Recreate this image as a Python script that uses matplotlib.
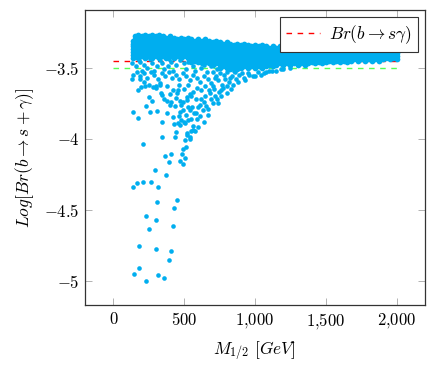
import numpy as np
import matplotlib.pyplot as plt

plt.rcParams['font.family'] = 'serif'
plt.rcParams['font.serif'] = ['cmr10', 'DejaVu Serif']
plt.rcParams['mathtext.fontset'] = 'cm'

# reference lines
br_exp = -3.45
br_low = -3.50
line_x = [0, 2000]

# dense band: (M_1/2, Log Br values) per column
band_cols = [
    (140, [-3.31, -3.33, -3.35, -3.37, -3.39, -3.41, -3.43]),
    (150, [-3.28, -3.30, -3.32, -3.34, -3.36, -3.38, -3.40, -3.42]),
    (175, [-3.27, -3.29, -3.31, -3.33, -3.35, -3.37, -3.39, -3.41, -3.43]),
    (200, [-3.28, -3.30, -3.32, -3.34, -3.36, -3.38, -3.40, -3.42]),
    (225, [-3.27, -3.29, -3.31, -3.33, -3.35, -3.37, -3.39, -3.41, -3.43]),
    (250, [-3.28, -3.30, -3.32, -3.34, -3.36, -3.38, -3.40, -3.42]),
    (275, [-3.27, -3.29, -3.31, -3.33, -3.35, -3.37, -3.39, -3.41, -3.43]),
    (300, [-3.28, -3.30, -3.32, -3.34, -3.36, -3.38, -3.40, -3.42]),
    (325, [-3.27, -3.29, -3.31, -3.33, -3.35, -3.37, -3.39, -3.41, -3.43]),
    (350, [-3.28, -3.30, -3.32, -3.34, -3.36, -3.38, -3.40, -3.42]),
    (375, [-3.29, -3.31, -3.33, -3.35, -3.37, -3.39, -3.41, -3.43]),
    (400, [-3.28, -3.30, -3.32, -3.34, -3.36, -3.38, -3.40, -3.42]),
    (425, [-3.29, -3.31, -3.33, -3.35, -3.37, -3.39, -3.41, -3.43]),
    (450, [-3.30, -3.32, -3.34, -3.36, -3.38, -3.40, -3.42]),
    (475, [-3.29, -3.31, -3.33, -3.35, -3.37, -3.39, -3.41, -3.43]),
    (500, [-3.30, -3.32, -3.34, -3.36, -3.38, -3.40, -3.42]),
    (525, [-3.29, -3.31, -3.33, -3.35, -3.37, -3.39, -3.41, -3.43]),
    (550, [-3.30, -3.32, -3.34, -3.36, -3.38, -3.40, -3.42, -3.44, -3.46]),
    (575, [-3.31, -3.33, -3.35, -3.37, -3.39, -3.41, -3.43, -3.45]),
    (600, [-3.30, -3.32, -3.34, -3.36, -3.38, -3.40, -3.42, -3.44, -3.46]),
    (625, [-3.31, -3.33, -3.35, -3.37, -3.39, -3.41, -3.43, -3.45, -3.47]),
    (650, [-3.30, -3.32, -3.34, -3.36, -3.38, -3.40, -3.42, -3.44, -3.46]),
    (675, [-3.31, -3.33, -3.35, -3.37, -3.39, -3.41, -3.43, -3.45, -3.47]),
    (700, [-3.32, -3.34, -3.36, -3.38, -3.40, -3.42, -3.44, -3.46, -3.48]),
    (725, [-3.31, -3.33, -3.35, -3.37, -3.39, -3.41, -3.43, -3.45, -3.47]),
    (750, [-3.32, -3.34, -3.36, -3.38, -3.40, -3.42, -3.44, -3.46, -3.48, -3.50]),
    (775, [-3.33, -3.35, -3.37, -3.39, -3.41, -3.43, -3.45, -3.47, -3.49]),
    (800, [-3.32, -3.34, -3.36, -3.38, -3.40, -3.42, -3.44, -3.46, -3.48, -3.50]),
    (825, [-3.33, -3.35, -3.37, -3.39, -3.41, -3.43, -3.45, -3.47, -3.49, -3.51]),
    (850, [-3.34, -3.36, -3.38, -3.40, -3.42, -3.44, -3.46, -3.48, -3.50]),
    (875, [-3.33, -3.35, -3.37, -3.39, -3.41, -3.43, -3.45, -3.47, -3.49, -3.51]),
    (900, [-3.34, -3.36, -3.38, -3.40, -3.42, -3.44, -3.46, -3.48, -3.50]),
    (925, [-3.33, -3.35, -3.37, -3.39, -3.41, -3.43, -3.45, -3.47, -3.49]),
    (950, [-3.34, -3.36, -3.38, -3.40, -3.42, -3.44, -3.46, -3.48, -3.50]),
    (975, [-3.35, -3.37, -3.39, -3.41, -3.43, -3.45, -3.47, -3.49]),
    (1000, [-3.34, -3.36, -3.38, -3.40, -3.42, -3.44, -3.46, -3.48, -3.50]),
    (1025, [-3.35, -3.37, -3.39, -3.41, -3.43, -3.45, -3.47, -3.49]),
    (1050, [-3.34, -3.36, -3.38, -3.40, -3.42, -3.44, -3.46, -3.48, -3.50]),
    (1075, [-3.35, -3.37, -3.39, -3.41, -3.43, -3.45, -3.47, -3.49]),
    (1100, [-3.36, -3.38, -3.40, -3.42, -3.44, -3.46, -3.48]),
    (1125, [-3.35, -3.37, -3.39, -3.41, -3.43, -3.45, -3.47, -3.49]),
    (1150, [-3.36, -3.38, -3.40, -3.42, -3.44, -3.46, -3.48]),
    (1175, [-3.35, -3.37, -3.39, -3.41, -3.43, -3.45, -3.47]),
    (1200, [-3.36, -3.38, -3.40, -3.42, -3.44, -3.46, -3.48]),
    (1225, [-3.37, -3.39, -3.41, -3.43, -3.45, -3.47]),
    (1250, [-3.36, -3.38, -3.40, -3.42, -3.44, -3.46, -3.48]),
    (1275, [-3.37, -3.39, -3.41, -3.43, -3.45, -3.47]),
    (1300, [-3.36, -3.38, -3.40, -3.42, -3.44, -3.46, -3.48]),
    (1325, [-3.37, -3.39, -3.41, -3.43, -3.45, -3.47]),
    (1350, [-3.38, -3.40, -3.42, -3.44, -3.46, -3.48]),
    (1375, [-3.37, -3.39, -3.41, -3.43, -3.45, -3.47]),
    (1400, [-3.38, -3.40, -3.42, -3.44, -3.46]),
    (1425, [-3.37, -3.39, -3.41, -3.43, -3.45, -3.47]),
    (1450, [-3.38, -3.40, -3.42, -3.44, -3.46]),
    (1475, [-3.37, -3.39, -3.41, -3.43, -3.45, -3.47]),
    (1500, [-3.38, -3.40, -3.42, -3.44, -3.46]),
    (1525, [-3.39, -3.41, -3.43, -3.45]),
    (1550, [-3.38, -3.40, -3.42, -3.44, -3.46]),
    (1575, [-3.39, -3.41, -3.43, -3.45]),
    (1600, [-3.38, -3.40, -3.42, -3.44, -3.46]),
    (1625, [-3.39, -3.41, -3.43, -3.45]),
    (1650, [-3.38, -3.40, -3.42, -3.44, -3.46]),
    (1675, [-3.39, -3.41, -3.43, -3.45]),
    (1700, [-3.38, -3.40, -3.42, -3.44]),
    (1725, [-3.39, -3.41, -3.43, -3.45]),
    (1750, [-3.38, -3.40, -3.42, -3.44]),
    (1775, [-3.39, -3.41, -3.43, -3.45]),
    (1800, [-3.38, -3.40, -3.42, -3.44]),
    (1825, [-3.39, -3.41, -3.43, -3.45]),
    (1850, [-3.40, -3.42, -3.44]),
    (1875, [-3.39, -3.41, -3.43, -3.45]),
    (1900, [-3.40, -3.42, -3.44]),
    (1925, [-3.39, -3.41, -3.43]),
    (1950, [-3.40, -3.42, -3.44]),
    (1975, [-3.39, -3.41, -3.43]),
    (2000, [-3.40, -3.42, -3.44]),
]

# ragged edge just under the band
fringe_x = [130, 160, 185, 205, 215, 240, 270, 285, 310, 345, 360, 385, 410, 420,
            440, 500, 515, 530, 560, 575, 600, 620, 640, 660, 690, 720, 735,
            180, 260, 330, 395, 470, 545]
fringe_y = [-3.47, -3.49, -3.46, -3.52, -3.48, -3.50, -3.47, -3.52, -3.49, -3.47,
            -3.51, -3.49, -3.46, -3.52, -3.48, -3.47, -3.51, -3.46, -3.49, -3.52,
            -3.46, -3.50, -3.48, -3.53, -3.49, -3.46, -3.51,
            -3.445, -3.44, -3.445, -3.44, -3.445, -3.44]

# scattered points between -3.5 and -4
mid_x = [140, 165, 190, 215, 240, 265, 290, 315, 340, 365, 390, 415, 440, 465, 490,
         515, 540, 565, 590, 615, 640, 665, 690, 715, 740, 765, 790, 815, 840, 865,
         890, 920, 950, 985, 1020, 1060, 1100, 1150, 1200,
         250, 300, 330, 380, 420, 460, 500, 530, 560, 590, 620, 650, 680, 710, 745,
         775, 800, 830,
         360, 410, 440, 480, 520, 555, 585, 610, 640, 670, 700, 730,
         380, 420, 470, 510, 545, 580, 610, 640, 600, 560,
         134, 188, 216, 223, 176, 195, 282, 301, 329, 253, 270, 228, 141, 176, 258,
         306, 341, 334, 341, 380, 399, 434, 470, 493, 528, 517, 446, 458, 540, 399,
         427, 458, 481, 505, 528, 517, 563, 540,
         860, 880, 905, 930, 960, 1000, 1040, 1080, 1120, 1180, 1250,
         700, 725, 750, 760, 780, 800, 805, 820, 845, 850, 700, 720, 690, 740, 760,
         675, 650, 655, 630, 665, 620, 600, 590, 570, 550, 540, 495, 460, 500, 470]
mid_y = [-3.55, -3.53, -3.56, -3.54, -3.57, -3.53, -3.55, -3.58, -3.54, -3.56,
         -3.53, -3.57, -3.55, -3.58, -3.54, -3.56, -3.59, -3.55, -3.57, -3.60,
         -3.56, -3.58, -3.61, -3.57, -3.59, -3.62, -3.58, -3.60, -3.56, -3.58,
         -3.55, -3.57, -3.54, -3.56, -3.53, -3.54, -3.52, -3.52, -3.51,
         -3.62, -3.64, -3.61, -3.63, -3.66, -3.62, -3.65, -3.62, -3.67, -3.64,
         -3.66, -3.63, -3.68, -3.65, -3.67, -3.64, -3.68, -3.65,
         -3.72, -3.74, -3.71, -3.76, -3.73, -3.78, -3.72, -3.76, -3.74, -3.79,
         -3.75, -3.72,
         -3.82, -3.85, -3.81, -3.83, -3.86, -3.82, -3.84, -3.88, -3.92, -3.91,
         -3.579, -3.582, -3.598, -3.627, -3.657, -3.638, -3.638, -3.627, -3.622,
         -3.704, -3.734, -3.769, -3.814, -3.852, -3.811, -3.802, -3.692, -3.680,
         -3.880, -3.734, -3.762, -3.769, -3.734, -3.739, -3.774, -3.704, -3.680,
         -3.657, -3.685, -3.685, -3.896, -3.891, -3.868, -3.887, -3.868, -3.961,
         -3.938, -3.985,
         -3.53, -3.60, -3.54, -3.59, -3.55, -3.56, -3.55, -3.53, -3.52, -3.51, -3.505,
         -3.53, -3.56, -3.54, -3.66, -3.55, -3.63, -3.53, -3.57, -3.62, -3.52, -3.63,
         -3.70, -3.72, -3.75, -3.70, -3.66, -3.70, -3.77, -3.80, -3.83, -3.72, -3.78,
         -3.86, -3.82, -3.70, -3.80, -3.80, -3.84, -3.88, -3.90]

# sparse tail down to -5
low_x = [441, 341, 432, 519, 545, 573, 207, 507, 540, 510, 489, 484, 505, 366,
         406, 394, 470, 489, 294, 373, 137, 167, 207, 263, 317, 310, 451, 425,
         228, 301, 254, 423, 179, 301, 404, 392, 181, 144, 315, 357, 230]
low_y = [-3.952, -3.985, -3.987, -3.971, -3.947, -3.947, -4.034, -4.008, -4.004,
         -4.056, -4.074, -4.105, -4.137, -4.123, -4.109, -4.163, -4.154, -4.179,
         -4.222, -4.252, -4.337, -4.313, -4.304, -4.304, -4.339, -4.442, -4.428,
         -4.485, -4.545, -4.571, -4.636, -4.611, -4.754, -4.777, -4.791, -4.850,
         -4.911, -4.951, -4.956, -4.977, -5.0]

band_x = [x for x, col in band_cols for _ in col]
band_y = [y for _, col in band_cols for y in col]
rest_x = fringe_x + mid_x + low_x
rest_y = fringe_y + mid_y + low_y

fig = plt.figure(figsize=(4.36, 3.76), dpi=100)
ax = fig.add_axes([85 / 436, 71 / 376, 340 / 436, 295 / 376])

ax.plot(line_x, [br_exp, br_exp], color='red', lw=1.0, dashes=(4, 4), zorder=1,
        label=r'$Br(b\to s\gamma)$')
ax.plot(line_x, [br_low, br_low], color='#55ff55', lw=1.0, dashes=(4, 4), zorder=1)
# band points overlap heavily, so a slightly larger dot keeps it solid
ax.scatter(band_x, band_y, s=17, color='#00aeef', linewidths=0, zorder=2)
ax.scatter(rest_x, rest_y, s=11, color='#00aeef', linewidths=0, zorder=2)

ax.set_xlim(-200, 2200)
ax.set_ylim(-5.17, -3.094)
ax.set_xticks([0, 500, 1000, 1500, 2000])
ax.set_xticklabels(['$0$', '$500$', '$1{,}000$', '$1{,}500$', '$2{,}000$'])
ax.set_yticks([-5, -4.5, -4, -3.5])
ax.set_yticklabels(['$-5$', '$-4.5$', '$-4$', '$-3.5$'])
ax.tick_params(direction='in', length=4.8, width=0.6, color='0.65', top=True,
               right=True, labelsize=12, pad=4.5)
ax.tick_params(axis='y', pad=4)
for sp in ax.spines.values():
    sp.set_color('#333333')
    sp.set_linewidth(0.9)

ax.set_xlabel(r'$M_{1/2}\ [GeV]$', fontsize=12.5, labelpad=6)
ax.set_ylabel(r'$Log[Br(b\to s+\gamma)]$', fontsize=12.5, labelpad=6)

leg = ax.legend(loc='upper right', fontsize=12.5, fancybox=False, framealpha=1,
                edgecolor='#333333', borderaxespad=0.4, handlelength=2.0,
                handletextpad=0.5, borderpad=0.35)
leg.get_frame().set_linewidth(0.8)

fig.savefig('out.png', dpi=100)
